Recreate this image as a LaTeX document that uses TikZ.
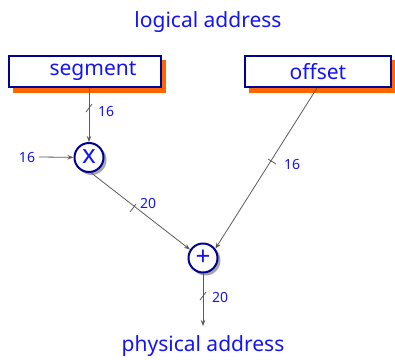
\documentclass[tikz,border=0pt]{standalone}
\usepackage{fontspec}
\setmainfont{Noto Sans}
\usetikzlibrary{arrows.meta,calc}
\definecolor{txtblue}{RGB}{20,20,245}
\definecolor{navy}{RGB}{0,0,150}
\definecolor{fieldshadow}{RGB}{255,102,0}
\definecolor{wire}{RGB}{95,90,85}
\tikzset{
  field/.style={draw=navy,line width=1.8pt,fill=white,minimum height=31pt,
    text=txtblue,font=\fontsize{21}{21}\selectfont,inner sep=0pt},
  op/.style={circle,draw=navy,line width=2pt,fill=white,minimum size=29pt,
    inner sep=0pt,text=txtblue,font=\fontsize{26}{26}\selectfont},
  opshadow/.style={circle,fill=black!35,minimum size=30pt,inner sep=0pt},
  title/.style={text=txtblue,font=\fontsize{21}{21}\selectfont},
  width/.style={text=txtblue,font=\fontsize{14}{14}\selectfont,inner sep=0pt},
  bus/.style={draw=wire,line width=0.8pt,-{Stealth[length=6pt,width=4.5pt]}},
  tick/.style={draw=wire,line width=0.8pt}
}
\begin{document}
\begin{tikzpicture}[x=1pt,y=-1pt]
\useasboundingbox (0,0) rectangle (395,359);
% titles
\node[title] (la) at (208,22) {logical address};
\node[title] (pa) at (203,346) {physical address};
% address fields with orange drop shadow
\fill[fieldshadow] (13,60) rectangle (166,93);
\node[field,minimum width=152pt] (seg) at (85,71.5) {\hspace*{16pt}segment};
\fill[fieldshadow] (249,60) rectangle (395,93);
\node[field,minimum width=146pt] (off) at (318,71.5) {offset};
% operators with grey shadow
\node[opshadow] at (91.5,160) {};
\node[op] (mul) at (89,157.5) {\raisebox{1pt}{x}};
\node[opshadow] at (205.5,260.5) {};
\node[op] (add) at (203,258) {+};
% inputs and outputs
\node[width] (k16) at (27,157) {16};
\coordinate (segout) at (89,88);
\coordinate (offout) at (317,88);
\coordinate (res) at (203,326);
% connectors
\draw[bus] (segout) -- (mul);
\draw[bus] (39,157) -- (mul);
\draw[bus] (mul.-82) -- (add.147);
\draw[bus] (offout) -- (add.37);
\draw[bus] (add) -- (res);
% bus width marks
\draw[tick] (86,112) -- (92,104);
\node[width,anchor=west] (w1) at (98,111) {16};
\draw[tick] (130,212) -- (136,204);
\node[width,anchor=west] (w2) at (140,203) {20};
\draw[tick] (268,159) -- (276,164);
\node[width,anchor=west] (w3) at (284,164) {16};
\draw[tick] (200,300) -- (206,292);
\node[width,anchor=west] (w4) at (212,297) {20};
\end{tikzpicture}
\end{document}
